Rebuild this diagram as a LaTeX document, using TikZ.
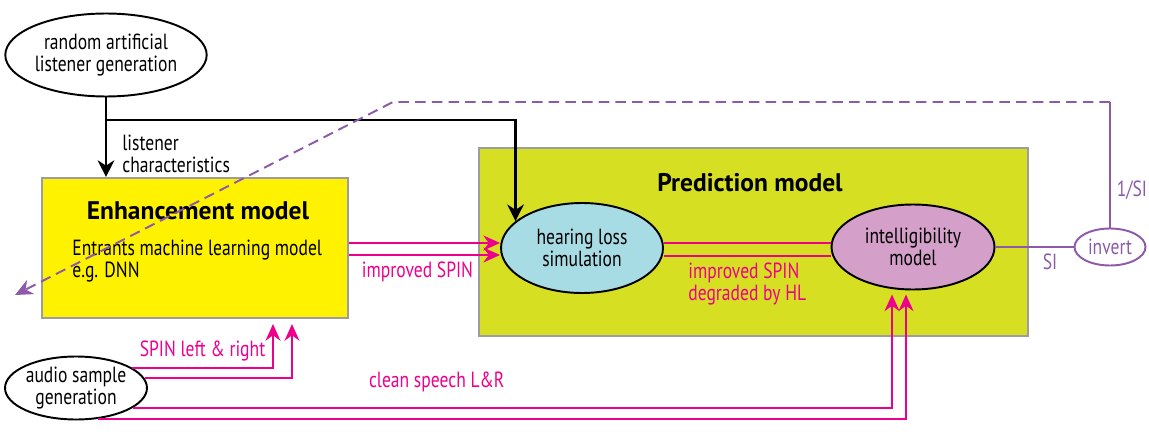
\documentclass[tikz,border=0pt]{standalone}
\usepackage{fontspec}
\setmainfont{PT Sans}[FakeStretch=0.8, BoldFeatures={FakeStretch=1.0}]
\usetikzlibrary{shapes.geometric,arrows.meta,calc}
\definecolor{spinmag}{HTML}{EC008C}
\definecolor{invpurple}{HTML}{8C5AA8}
\definecolor{enhyellow}{HTML}{FFF200}
\definecolor{predgreen}{HTML}{D7DF23}
\definecolor{hlblue}{HTML}{A8DCE5}
\definecolor{intpink}{HTML}{D49FC8}
\definecolor{boxgray}{HTML}{9D9D9D}
\tikzset{
  blob/.style={ellipse, draw, line width=1.1pt, inner sep=0pt, align=center, font=\fontsize{12.5}{12.5}\selectfont},
  modelbox/.style={rectangle, draw=boxgray, line width=1.2pt},
  boxtitle/.style={font=\fontsize{14.5}{17}\selectfont\bfseries},
  txt/.style={font=\fontsize{12.5}{12.5}\selectfont, align=left, inner sep=0pt},
  sig/.style={draw=spinmag, line width=1.1pt},
  sigarrow/.style={sig, -{Stealth[length=9.5pt,width=8.5pt]}},
  siglabel/.style={text=spinmag, font=\fontsize{12.5}{12.5}\selectfont, align=left},
  ctrl/.style={line width=1.2pt, -{Stealth[length=9.5pt,width=9.5pt]}},
  fb/.style={draw=invpurple, line width=1.1pt},
  fblabel/.style={text=invpurple, font=\fontsize{12.5}{12.5}\selectfont},
}
\begin{document}
\begin{tikzpicture}[x=0.02cm, y=-0.02cm]
  \useasboundingbox (0,0) rectangle (1149,446);
  % Boxes
  \node (enh) [modelbox, fill=enhyellow, minimum width=6.12cm, minimum height=2.8cm] at (195,248) {};
  \node (enhtitle) [boxtitle] at (198,211) {Enhancement model};
  \node (enhtext) [txt, anchor=north west] at (72,240) {Entrants machine learning model\\e.g. DNN};
  \node (pred) [modelbox, fill=predgreen, minimum width=10.98cm, minimum height=3.76cm] at (753.5,242) {};
  \node (predtitle) [boxtitle] at (750,183) {Prediction model};
  % Ellipses
  \node (rand) [blob, minimum width=3.74cm, minimum height=1.66cm] at (106,55) {random artificial\\listener generation};
  \node (hls) [blob, fill=hlblue, minimum width=3.24cm, minimum height=1.8cm] at (582,248) {hearing loss\\simulation};
  \node (intel) [blob, fill=intpink, minimum width=3.26cm, minimum height=1.7cm] at (913,247) {intelligibility\\model};
  \node (inv) [blob, draw=invpurple, text=invpurple, minimum width=1.42cm, minimum height=0.74cm] at (1110,247) {invert};
  \node (audio) [blob, minimum width=2.84cm, minimum height=1.26cm] at (76,388) {audio sample\\generation};
  % Listener arrows
  \coordinate (split) at (rand.south |- 0,120);
  \draw[ctrl] (rand) -- (rand |- enh.north);
  \draw[ctrl] (split) -| (hls.158);
  \node (listlabel) [txt, anchor=north west] at (122,135) {listener\\characteristics};
  % SPIN arrows
  \draw[sigarrow] ([yshift=0.1cm]enh.east) -- ([yshift=0.1cm]enh.east -| hls.west);
  \draw[sigarrow] ([yshift=-0.14cm]enh.east) -- ([yshift=-0.14cm]enh.east -| hls.west)
    node[siglabel, below, midway, xshift=-4pt] {improved SPIN};
  \draw[sig] ([yshift=0.1cm]hls.east) -- ([yshift=0.1cm]hls.east -| intel.west);
  \draw[sig] ([yshift=-0.16cm]hls.east) -- ([yshift=-0.16cm]hls.east -| intel.west)
    node[siglabel, below, midway] {improved SPIN\\degraded by HL};
  \draw[sigarrow] (audio.20) -| ([xshift=1.56cm,yshift=-0.1cm]enh.south)
    node[siglabel, above, pos=0.25] {SPIN left \& right};
  \draw[sigarrow] (audio.8) -| ([xshift=1.94cm,yshift=-0.1cm]enh.south);
  \draw[sigarrow] (audio.-19) -| ([xshift=-0.42cm,yshift=-0.08cm]intel.south)
    node[siglabel, above=5pt, pos=0.2] {clean speech L\&R};
  \draw[sigarrow] (audio.-55) -| ([xshift=-0.14cm,yshift=-0.08cm]intel.south);
  % Feedback
  \coordinate (fbtop) at (1107,102);
  \coordinate (fbturn) at (393,102);
  \coordinate (fbend) at (15,295);
  \draw[fb] (intel) -- (inv) node[fblabel, below, pos=0.7] {SI};
  \draw[fb] (inv.north) -- (inv.north |- fbtop) node[fblabel, right, pos=0.3] {1/SI};
  \draw[fb, dash pattern=on 6pt off 3.5pt, -{Stealth[length=10pt,width=9pt]}] (inv.north |- fbtop) -- (fbturn) -- (fbend);
\end{tikzpicture}
\end{document}
